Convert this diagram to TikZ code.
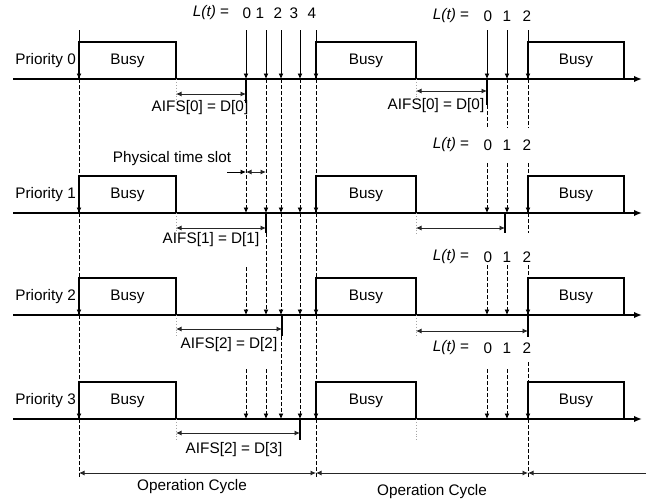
\documentclass[tikz,border=0pt]{standalone}
\usepackage{fontspec}
\setmainfont{Liberation Sans}
\usetikzlibrary{arrows.meta}
\begin{document}
\begin{tikzpicture}[x=1pt,y=-1pt,
  every node/.style={font=\fontsize{15.3}{18}\selectfont, inner sep=0pt},
  arr/.style={-{Latex[length=5.5pt,width=5pt]}},
  twohead/.style={{Latex[length=5.5pt,width=5pt]}-{Latex[length=5.5pt,width=5pt]}, line width=0.8pt, black!85},
  solidv/.style={arr, line width=0.9pt},
  dashv/.style={arr, dash pattern=on 3.5pt off 2.5pt, line width=0.9pt},
  dashl/.style={dash pattern=on 3.5pt off 2.5pt, line width=0.9pt},
  axisline/.style={line width=2.2pt, -{Latex[length=8pt,width=6.5pt]}},
  busybox/.style={line width=1.9pt},
  bar/.style={line width=1.9pt},
  dotv/.style={gray!70, line width=0.9pt, dotted},
]
\useasboundingbox (0,0) rectangle (649,501);

% axes
\foreach \a in {79,213,315,419} \draw[axisline] (13,\a) -- (642,\a);

% dotted marks at end of busy
\foreach \a in {79,213,315,419} {
  \draw[dotv] (176,\a) -- (176,\a+22);
  \draw[dotv] (416,\a) -- (416,\a+22);
}

% top solid arrows
\foreach \x in {79,246,266,281,300,316,487,507,528} \draw[solidv] (\x,30) -- (\x,79);

% long dashed lines at cycle boundaries
\foreach \x in {79,316} {
  \draw[dashv] (\x,79) -- (\x,213);
  \draw[dashv] (\x,213) -- (\x,315);
  \draw[dashv] (\x,315) -- (\x,419);
  \draw[dashl] (\x,419) -- (\x,478);
}

% left slot lines
\draw[dashv] (246,103) -- (246,213);
\draw[dashv] (246,267) -- (246,315);
\draw[dashv] (246,369) -- (246,419);

\draw[dashv] (266,79) -- (266,213);
\draw[dashv] (266,233) -- (266,315);
\draw[dashv] (266,369) -- (266,419);

\draw[dashv] (281,79) -- (281,213);
\draw[dashv] (281,213) -- (281,315);
\draw[dashv] (281,336) -- (281,419);

\draw[dashv] (300,79) -- (300,213);
\draw[dashv] (300,213) -- (300,315);
\draw[dashv] (300,315) -- (300,419);

% right slot lines
\draw[dashl] (487,105) -- (487,128);
\draw[dashv] (487,163) -- (487,213);
\draw[dashv] (487,265) -- (487,315);
\draw[dashv] (487,369) -- (487,419);

\draw[dashl] (507,79) -- (507,128);
\draw[dashv] (507,163) -- (507,213);
\draw[dashv] (507,265) -- (507,315);
\draw[dashv] (507,369) -- (507,419);

\draw[dashl] (528,79) -- (528,128);
\draw[dashv] (528,163) -- (528,213);
\draw[dashl] (528,213) -- (528,233);
\draw[dashv] (528,265) -- (528,315);
\draw[dashv] (528,362) -- (528,419);
\draw[dashl] (528,419) -- (528,478);

% busy boxes and labels
\foreach \a/\n in {79/0,213/1,315/2,419/3} {
  \foreach \x/\w in {79/176,316/416,528/624} {
    \draw[busybox] (\x,\a) -- (\x,\a-37) -- (\w,\a-37) -- (\w,\a);
    \node at ({(\x+\w)/2},\a-18) {Busy};
  }
  \node[anchor=east] at (76,\a-18) {Priority \n};
}

% AIFS bars
\draw[bar] (246,79) -- (246,103);
\draw[bar] (266,213) -- (266,233);
\draw[bar] (282,315) -- (282,336);
\draw[bar] (300,419) -- (300,440);
\draw[bar] (487,79) -- (487,105);
\draw[bar] (505,213) -- (505,233);
\draw[bar] (528,315) -- (528,337);

% AIFS arrows
\draw[twohead] (176,94) -- (246,94);
\draw[twohead] (176,228) -- (266,228);
\draw[twohead] (176,329) -- (282,329);
\draw[twohead] (176,433) -- (300,433);
\draw[twohead] (416,91) -- (487,91);
\draw[twohead] (416,228) -- (505,228);
\draw[twohead] (416,331) -- (528,331);

% AIFS labels
\node at (200,108) {AIFS[0] = D[0]};
\node at (436,106) {AIFS[0] = D[0]};
\node at (211,240) {AIFS[1] = D[1]};
\node at (229,345) {AIFS[2] = D[2]};
\node at (234,450) {AIFS[2] = D[3]};

% L(t) labels
\node at (211,13) {\textit{L(t)} =};
\foreach \x/\d in {247/0,260/1,278/2,294/3,312/4} \node at (\x,13) {\d};
\foreach \y in {16,145,257,348} {
  \node at (451,\y) {\textit{L(t)} =};
  \foreach \x/\d in {488/0,507/1,527/2} \node at (\x,\y) {\d};
}

% physical time slot
\node at (172,159) {Physical time slot};
\draw[arr, line width=0.8pt] (227,172) -- (246,172);
\draw[twohead] (246,172) -- (266,172);

% operation cycles
\draw[twohead] (79,473) -- (316,473);
\draw[twohead] (316,473) -- (528,473);
\draw[arr, line width=0.8pt, black!85] (646,473) -- (528,473);
\node at (192,487) {Operation Cycle};
\node at (432,492) {Operation Cycle};
\end{tikzpicture}
\end{document}
